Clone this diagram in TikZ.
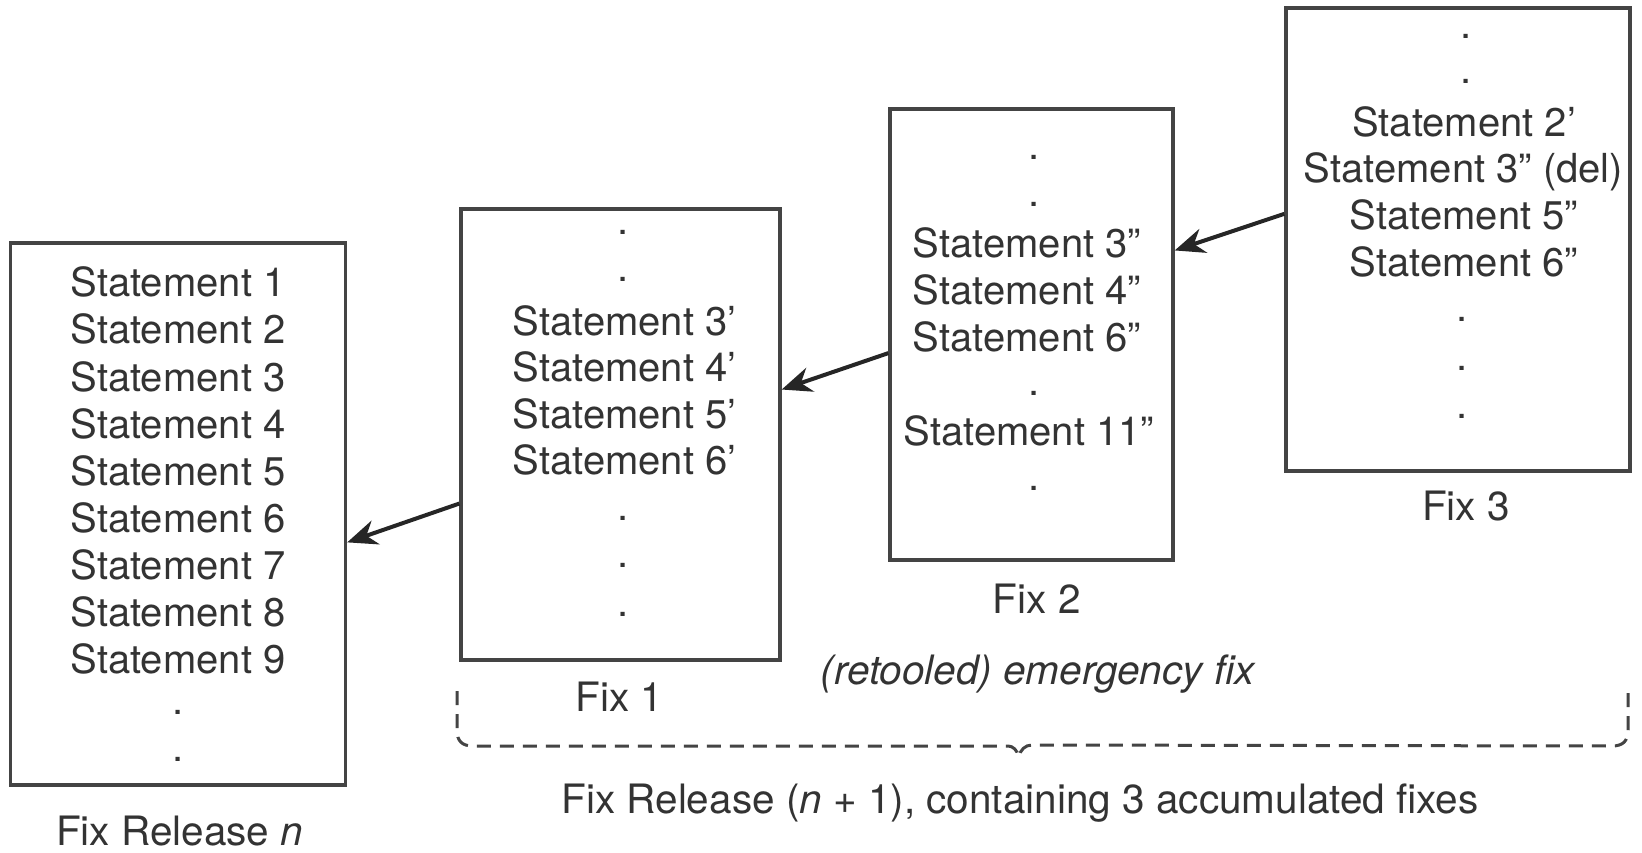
\documentclass[tikz,border=0pt]{standalone}
\usepackage{fontspec}
\setmainfont{TeX Gyre Heros}
\usetikzlibrary{arrows.meta,calc}
\definecolor{ink}{HTML}{444444}
\definecolor{arrowink}{HTML}{262626}
\definecolor{txt}{HTML}{333333}
\tikzset{
  listbox/.style={draw=ink, line width=3.4pt, rectangle, inner sep=0pt},
  stmt/.style={anchor=base, inner sep=0pt, text=txt, font=\fontsize{40}{47}\selectfont},
  dotline/.style={anchor=base, inner sep=0pt, text=txt, font=\fontsize{40}{47}\selectfont},
  caption/.style={anchor=base, inner sep=0pt, text=txt, font=\fontsize{40.5}{47}\selectfont},
  flow/.style={draw=arrowink, line width=4pt, -{Stealth[length=30pt,width=25pt]}},
  bracket/.style={draw=ink, line width=3pt, dash pattern=on 14pt off 9pt, line cap=butt}
}
\begin{document}
\begin{tikzpicture}[x=1pt,y=-1pt]
\useasboundingbox[fill=white] (0,0) rectangle (1642,852);

% the four program versions
\node[listbox, minimum width=335pt, minimum height=542pt] (rel) at (178,514) {};
\node[listbox, minimum width=319pt, minimum height=451pt] (fixa) at (620.5,434.5) {};
\node[listbox, minimum width=283pt, minimum height=451pt] (fixb) at (1031.5,334.5) {};
\node[listbox, minimum width=344pt, minimum height=463pt] (fixc) at (1458,239.5) {};

% contents of the base release
\foreach \n/\y in {1/282.7,2/329.9,3/377.0,4/424.1,5/471.2,6/518.4,7/565.5,8/612.6,9/659.7}
  \node[stmt] (r\n) at (178,\y+14) {Statement \n};
\foreach \y [count=\i] in {712.1,759.2}
  \node[dotline] (rd\i) at (178,\y+2) {.};

% contents of fix 1
\foreach \y [count=\i] in {232.5,279.6,518.4,565.5,614.7}
  \node[dotline] (ad\i) at (623,\y+2) {.};
\foreach \n/\y in {3/321.5,4/367.6,5/414.7,6/460.8}
  \node[stmt] (a\n) at (624.5,\y+14) {Statement \n’};

% contents of fix 2
\foreach \y [count=\i] in {157.1,204.2,393.7,488.0}
  \node[dotline] (bd\i) at (1034,\y+2) {.};
\foreach \n/\y in {3/243.0,4/290.1,6/337.2}
  \node[stmt] (b\n) at (1027,\y+14) {Statement \n”};
\node[stmt] (b11) at (1029,431.4+14) {Statement 11”};

% contents of fix 3
\foreach \y [count=\i] in {36.7,81.7}
  \node[dotline] (cd\i) at (1466,\y+2) {.};
\foreach \y [count=\i] in {319.4,368.6,416.8}
  \node[dotline] (ce\i) at (1462,\y+2) {.};
\node[stmt] (c2) at (1464,122.5+14) {Statement 2’};
\node[stmt] (c3) at (1463.5,168.6+14) {Statement 3” (del)};
\node[stmt] (c5) at (1464,215.7+14) {Statement 5”};
\node[stmt] (c6) at (1464,262.9+14) {Statement 6”};

% captions
\node[caption] (lrel) at (179.6,845) {Fix Release \textit{n}};
\node[caption] (lfa) at (619.4,697.4+14) {Fix 1};
\node[caption] (lfb) at (1036.7,599+14) {Fix 2};
\node[caption] (lfc) at (1466,506.8+14) {Fix 3};
\node[caption, font=\fontsize{40.5}{47}\selectfont\itshape] (lemg) at (1037.8,670.2+14) {(retooled) emergency fix};
\node[caption] (lnext) at (1020,799+14) {Fix Release (\textit{n} + 1), containing 3 accumulated fixes};

% each fix builds on the previous one
\draw[flow] ($(fixa.north west)!0.652!(fixa.south west)$) -- ($(rel.north east)!0.552!(rel.south east)$);
\draw[flow] ($(fixb.north west)!0.541!(fixb.south west)$) -- ($(fixa.north east)!0.401!(fixa.south east)$);
\draw[flow] ($(fixc.north west)!0.445!(fixc.south west)$) -- ($(fixb.north east)!0.315!(fixb.south east)$);

% dashed brace grouping the three fixes
\coordinate (brl) at (457,691);
\coordinate (brr) at (1628,691);
\coordinate (brtip) at (1019,757);
\draw[bracket] (brl) -- (457,730)
  .. controls (457,741) and (462,746) .. (473,746) -- (1008,746)
  .. controls (1013,746) and (1017,750) .. (brtip)
  .. controls (1020,750) and (1025,745) .. (1032,745) -- (1612,746)
  .. controls (1623,746) and (1628,741) .. (1628,730) -- (brr);
\end{tikzpicture}
\end{document}
